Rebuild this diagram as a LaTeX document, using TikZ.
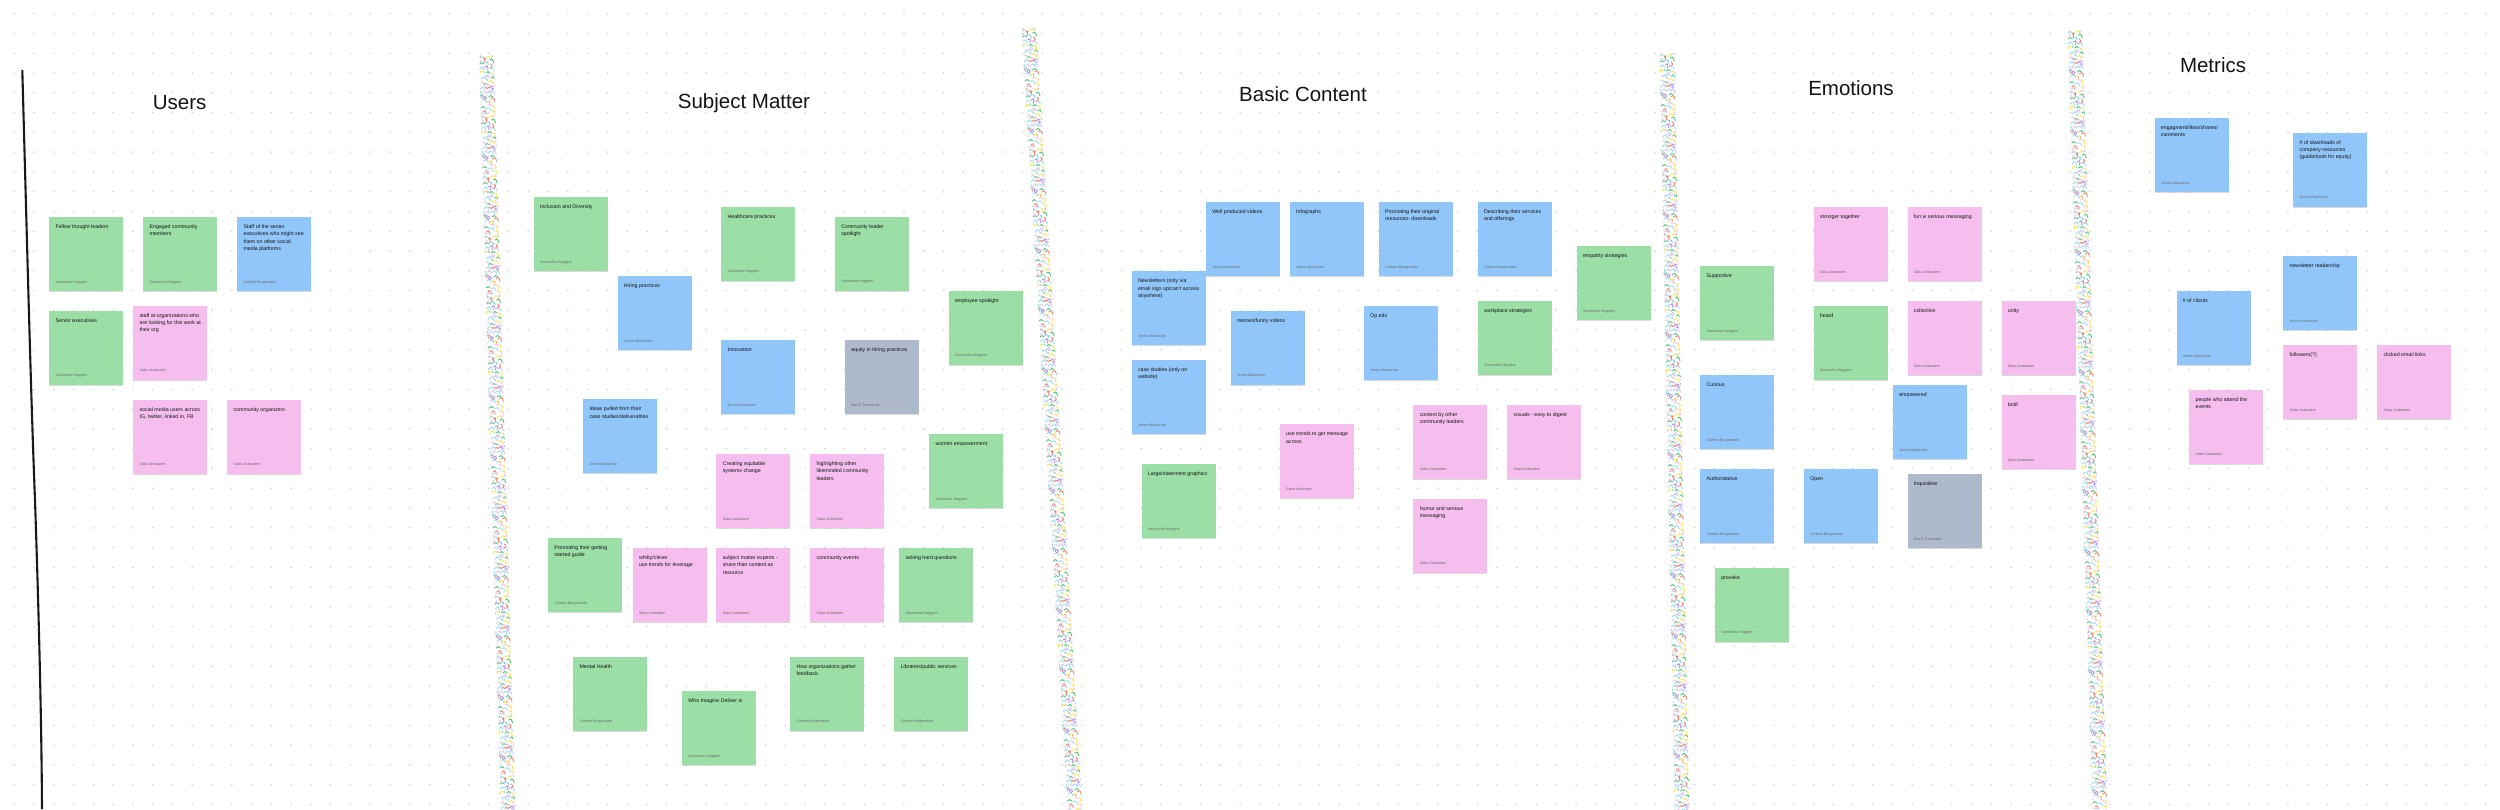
\documentclass[tikz,border=0pt]{standalone}
\usepackage{fontspec}
\setmainfont{Liberation Sans}
\usetikzlibrary{shadows}
\definecolor{sgreen}{HTML}{9BDFA6}
\definecolor{sblue}{HTML}{90C6F9}
\definecolor{spink}{HTML}{F5BEEE}
\definecolor{sgrey}{HTML}{AEB9CB}
\definecolor{dotc}{HTML}{CFCFCF}
\definecolor{cSky}{HTML}{9ADBF5}
\definecolor{cRose}{HTML}{F6BDE2}
\definecolor{cRed}{HTML}{F57C5E}
\definecolor{cGrn}{HTML}{45C47A}
\definecolor{cYel}{HTML}{FAE05A}
\definecolor{cPur}{HTML}{A08CDC}
\definecolor{cLil}{HTML}{D6C9F2}
\tikzset{
  note/.style={rectangle,anchor=north west,minimum width=74pt,minimum height=74pt,inner sep=0pt,
    drop shadow={shadow xshift=0pt,shadow yshift=-1.1pt,opacity=.14,fill=black}},
  notegreen/.style={note,fill=sgreen},
  noteblue/.style={note,fill=sblue},
  notepink/.style={note,fill=spink},
  notegrey/.style={note,fill=sgrey},
  notetext/.style={anchor=north west,inner sep=0pt,align=left,text=black!92,font=\fontsize{5.25}{7.33}\selectfont},
  noteauthor/.style={anchor=base west,inner sep=0pt,text=black!58,font=\fontsize{3.7}{4}\selectfont},
  title/.style={inner sep=0pt,text=black!92,font=\fontsize{20.5}{24}\selectfont},
  sq/.style={line width=.85pt,line cap=round,line join=round,fill=none},
  griddots/.style={dotc,line width=1.7pt,line cap=round,dash pattern=on 0pt off 19.77pt},
}
\newcommand{\sticky}[6]{%
  \node[#4] (#1) at (#2,#3) {};
  \node[notetext] (#1-t) at ([xshift=6.4pt,yshift=-6.5pt]#1.north west) {\rule{0pt}{5pt}#5};
  \node[noteauthor] (#1-a) at ([xshift=6.4pt,yshift=-66.3pt]#1.north west) {#6};
}
\newcommand{\SH}{Samantha Heggem}
\newcommand{\CB}{Colleen Borgendale}
\newcommand{\SA}{Saba Andualem}
\newcommand{\JM}{Jenna Malzacher}
\newcommand{\MT}{Mar E Townsend}
\newcommand{\confettitile}{%
  \foreach \c/\a/\b/\p/\q/\r/\s in {
    cSky/-7/3/-4/1/-2/5, cSky/-3/8/0/6/2/10, cYel/1/2/4/0/5/4, cSky/-7/14/-4/11/-3/15,
    cSky/2/14/5/12/7/16, cSky/-6/24/-3/21/-1/25, cYel/1/27/4/25/6/29, cSky/-7/34/-4/31/-2/35,
    cSky/-1/38/2/35/4/39, cRed/3/44/6/42/7/46, cSky/-6/46/-3/44/-1/48, cSky/-2/54/1/52/3/56,
    cGrn/3/5/6/4/7/8, cGrn/-7/9/-5/7/-3/9, cGrn/-1/18/1/16/3/18, cGrn/4/23/6/21/7/24,
    cGrn/-4/30/-2/28/0/30, cGrn/1/42/3/40/5/42, cGrn/-7/53/-5/51/-3/53, cYel/4/57/6/55/7/58,
    cPur/-2/12/1/10/0/15, cPur/2/33/5/30/5/35, cRed/-4/41/-7/40/-6/43,
    cRed/-3/4/-1/2/-2/7, cRed/4/9/6/11/4/13, cRed/-2/32/0/34/2/32, cRed/-5/57/-3/55/-2/59,
    cYel/-7/19/-7/16/-4/17, cYel/4/18/7/19/6/22, cYel/-1/47/1/45/2/49, cYel/5/50/7/52/5/54,
    cLil/-7/28/-4/27/-3/30, cLil/3/37/6/36/7/39, cLil/-2/22/0/20/1/23, cLil/-7/58/-4/59/-1/57,
    cRose/-5/5/-7/7/-5/8, cRose/0/13/2/12/3/14, cRose/-1/29/1/29/3/31, cRose/-5/37/-3/36/-2/38, cRose/0/50/2/49/4/51}
    {\draw[sq,\c] (\a,\b) .. controls (\p,\q) .. (\r,\s);}
  \foreach \c/\a/\b in {cLil/1/21, cPur/-3/43, cSky/-6/40, cLil/5/34}
    {\draw[line width=.7pt,\c,fill=none] (\a,\b) circle (1.7);}
  \foreach \c/\a/\b in {cRed/-6/1, cPur/6/1, cGrn/-7/37, cRose/7/27, cYel/-5/26, cGrn/0/25, cRose/-7/49, cSky/7/47,
      cRed/2/47, cYel/0/3, cGrn/-3/17, cRose/6/59, cSky/-1/59, cPur/7/31, cGrn/1/8, cRose/-1/41}
    {\fill[\c] (\a,\b) circle (.7);}
}
\newcommand{\confettistrip}[3]{%
  \pgfmathsetmacro{\kk}{(#3-#1)/(809-#2)}
  \pgfmathsetmacro{\ll}{810-#2}
  \begin{scope}[cm={1,0,-\kk,1,(#1,#2)}]
    \clip (-8.7,0) rectangle (8.7,\ll);
    \foreach \tilenum in {0,...,13}{
      \begin{scope}[yshift=-\tilenum*60pt]\confettitile\end{scope}
    }
  \end{scope}
}
\begin{document}
\begin{tikzpicture}[x=1pt,y=-1pt]
\useasboundingbox (0,0) rectangle (2500,809);
\fill[white] (0,0) rectangle (2500,809);
% dot grid
\foreach \i in {0,...,126}{
  \pgfmathsetmacro{\dotx}{14.3+\i*19.77}
  \draw[griddots] (\dotx,13.76) -- (\dotx,812);
}
% left black line
\draw[line width=2.1pt,black!90] (22.3,70) .. controls (27,240) and (31,400) .. (35,500)
   .. controls (39,620) and (41.5,720) .. (42,809);
% confetti dividers
\confettistrip{486.5}{55}{508}
\confettistrip{1029}{28}{1075}
\confettistrip{1667}{53}{1682}
\confettistrip{2075}{30}{2100}
% titles
\node[title] (tUsers) at (179.7,102.7) {Users};
\node[title] (tSubject) at (744,102.7) {Subject Matter};
\node[title] (tBasic) at (1303,94.5) {Basic Content};
\node[title] (tEmotions) at (1851,87.7) {Emotions};
\node[title] (tMetrics) at (2213,65.4) {Metrics};
% Users
\sticky{u1}{49}{216.7}{notegreen}{Fellow thought leaders}{\SH}
\sticky{u2}{143}{216.7}{notegreen}{Engaged community\\members}{\SH}
\sticky{u3}{237}{216.7}{noteblue}{Staff of the senior\\executives who might see\\them on other social\\media platforms}{\CB}
\sticky{u4}{49}{310.3}{notegreen}{Senior executives}{\SH}
\sticky{u5}{133}{305.3}{notepink}{staff at organizations who\\are looking for this work at\\their org}{\SA}
\sticky{u6}{133}{399.3}{notepink}{social media users across\\IG, twitter, linked in, FB}{\SA}
\sticky{u7}{227}{399.3}{notepink}{community organizers}{\SA}
% Subject Matter
\sticky{s1}{533.5}{196.7}{notegreen}{Inclusion and Diversity}{\SH}
\sticky{s2}{617.3}{275.7}{noteblue}{Hiring practices}{\JM}
\sticky{s3}{721}{206.3}{notegreen}{Healthcare practices}{\SH}
\sticky{s4}{834.7}{216.3}{notegreen}{Community leader\\spotlight}{\SH}
\sticky{s5}{948.4}{290.3}{notegreen}{employee spotlight}{\SH}
\sticky{s6}{721}{340}{noteblue}{Innovation}{\JM}
\sticky{s7}{844.7}{340}{notegrey}{equity in hiring practices}{\MT}
\sticky{s8}{582.9}{399}{noteblue}{Ideas pulled from their\\case studies/deliverables}{\JM}
\sticky{s9}{929}{433.7}{notegreen}{women empowerment}{\SH}
\sticky{s10}{716.2}{453.7}{notepink}{Creating equitable\\systems change}{\SA}
\sticky{s11}{810}{453.7}{notepink}{highlighting other\\likeminded community\\leaders}{\SA}
\sticky{s12}{547.8}{537.7}{notegreen}{Promoting their getting\\started guide}{\CB}
\sticky{s13}{632.4}{547.7}{notepink}{whitty/clever\\use trends for leverage}{\SA}
\sticky{s14}{716.2}{547.7}{notepink}{subject matter experts -\\share thier content as\\resource}{\SA}
\sticky{s15}{810}{547.7}{notepink}{community events}{\SA}
\sticky{s16}{899.2}{547.7}{notegreen}{asking hard questions}{\SH}
\sticky{s17}{573}{656.3}{notegreen}{Mental Health}{\CB}
\sticky{s18}{681.8}{691}{notegreen}{Who Imagine Deliver is}{\SH}
\sticky{s19}{790}{656.3}{notegreen}{How organizations gather\\feedback}{\CB}
\sticky{s20}{894.2}{656.3}{notegreen}{Libraries/public services}{\CB}
% Basic Content
\sticky{b1}{1205.7}{201.7}{noteblue}{Well produced videos}{\JM}
\sticky{b2}{1289.6}{201.7}{noteblue}{Infographs}{\JM}
\sticky{b3}{1378.6}{201.7}{noteblue}{Promoting their original\\resources- downloads}{\CB}
\sticky{b4}{1477.5}{201.7}{noteblue}{Describing their services\\and offerings}{\CB}
\sticky{b5}{1576.4}{246}{notegreen}{empathy strategies}{\SH}
\sticky{b6}{1131.4}{271}{noteblue}{Newsletters (only via\\email sign up/can't access\\anywhere)}{\JM}
\sticky{b7}{1230.4}{310.3}{noteblue}{memes/funny videos}{\JM}
\sticky{b8}{1363.6}{305.3}{noteblue}{Op eds}{\JM}
\sticky{b9}{1477.5}{300.3}{notegreen}{workplace strategies}{\SH}
\sticky{b10}{1131.4}{359.7}{noteblue}{case studies (only on\\website)}{\JM}
\sticky{b11}{1279.6}{424}{notepink}{use trends to get message\\across}{\SA}
\sticky{b12}{1413.2}{404.3}{notepink}{content by other\\community leaders}{\SA}
\sticky{b13}{1507.1}{404.3}{notepink}{visuals - easy to digest}{\SA}
\sticky{b14}{1141.4}{463.7}{notegreen}{Large/statement graphics}{\SH}
\sticky{b15}{1413.2}{498.3}{notepink}{humor and serious\\messaging}{\SA}
% Emotions
\sticky{e1}{1813.3}{206.7}{notepink}{stronger together}{\SA}
\sticky{e2}{1907.3}{206.7}{notepink}{fun w serious messaging}{\SA}
\sticky{e3}{1700}{266}{notegreen}{Supportive}{\SH}
\sticky{e4}{1813.3}{305.3}{notegreen}{heard}{\SH}
\sticky{e5}{1907.3}{300.7}{notepink}{collective}{\SA}
\sticky{e6}{2001.3}{300.7}{notepink}{unity}{\SA}
\sticky{e7}{1700}{374.7}{noteblue}{Curious}{\CB}
\sticky{e8}{1892.7}{384.7}{noteblue}{empowered}{\JM}
\sticky{e9}{2001.3}{394.7}{notepink}{bold}{\SA}
\sticky{e10}{1700}{468.7}{noteblue}{Authoratative}{\CB}
\sticky{e11}{1803.7}{468.7}{noteblue}{Open}{\CB}
\sticky{e12}{1907.3}{473.7}{notegrey}{Inquisitive}{\MT}
\sticky{e13}{1714.7}{567.3}{notegreen}{provoke}{\SH}
% Metrics
\sticky{m1}{2154.3}{117.7}{noteblue}{engagment/likes/shares/\\comments}{\JM}
\sticky{m2}{2293}{132.3}{noteblue}{\# of downloads of\\company resources\\(guide/tools for equity)}{\JM}
\sticky{m3}{2283}{256}{noteblue}{newsletter readership}{\JM}
\sticky{m4}{2176.3}{290.7}{noteblue}{\# of clients}{\JM}
\sticky{m5}{2283}{345}{notepink}{followers(?)}{\SA}
\sticky{m6}{2377}{345}{notepink}{clicked email links}{\SA}
\sticky{m7}{2189}{389.3}{notepink}{people who attend the\\events}{\SA}
\end{tikzpicture}
\end{document}
